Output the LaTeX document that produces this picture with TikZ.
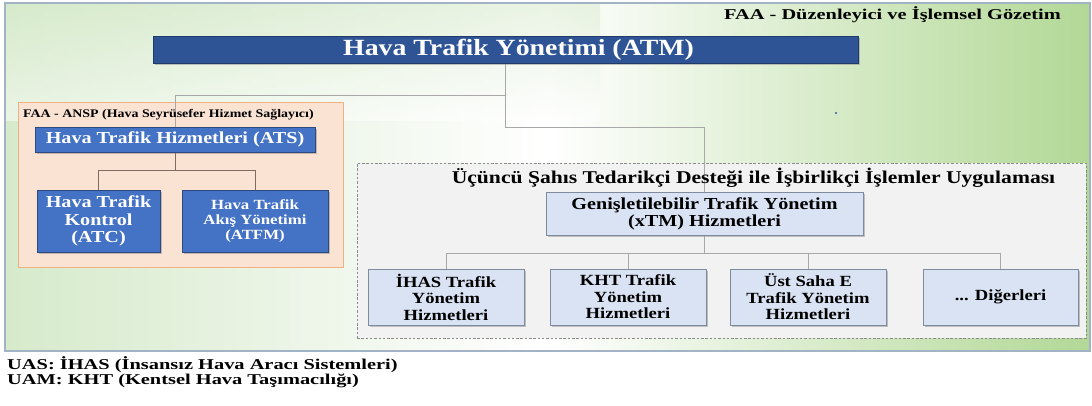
\documentclass[tikz,border=0pt]{standalone}
\usepackage{fontspec}
\setmainfont[FakeStretch=1.2]{Liberation Serif}
\newfontfamily\widefont[FakeStretch=1.36]{Liberation Serif}
\usetikzlibrary{shadows}
\definecolor{atmblue}{HTML}{2F5496}
\definecolor{atsblue}{HTML}{4472C4}
\definecolor{lightbox}{HTML}{DAE3F3}
\definecolor{lightborder}{HTML}{7F8CA0}
\definecolor{anspfill}{HTML}{FBE3D4}
\definecolor{anspborder}{HTML}{F0B080}
\definecolor{dashfill}{HTML}{F2F2F2}
\definecolor{dashborder}{HTML}{8A8A8A}
\definecolor{greenL}{HTML}{D6EACB}
\definecolor{greenR}{HTML}{B2D896}
\definecolor{panelborder}{HTML}{A3B3C6}
\definecolor{connA}{HTML}{A8A8A8}
\definecolor{connB}{HTML}{7E6C62}
\pgfdeclarelayer{bg}
\pgfdeclarelayer{conn}
\pgfsetlayers{bg,conn,main}
\tikzset{
  shad/.style={drop shadow={opacity=0.45, shadow xshift=2pt, shadow yshift=-2pt}},
  atmbox/.style={fill=atmblue, draw=atmblue!70!black, text=white, inner sep=0,
    font=\fontsize{22.5}{26}\selectfont\bfseries, shad},
  atsbox/.style={fill=atsblue, draw=atsblue!65!black, text=white, inner sep=0, align=center, shad},
  lbox/.style={fill=lightbox, draw=lightborder, line width=0.9pt, text=black, inner sep=0, align=center,
    font=\fontsize{15.5}{16.5}\selectfont\bfseries, shad},
  conna/.style={draw=connA, line width=0.8pt},
  connb/.style={draw=connB, line width=0.9pt},
  lbl/.style={inner sep=0, text=black, font=\bfseries},
}
\begin{document}
\begin{tikzpicture}[x=1pt,y=-1pt]
\useasboundingbox (0,0) rectangle (1092,405);
\begin{pgfonlayer}{bg}
\fill[white] (0,0) rectangle (1092,405);
\shade[left color=greenL, right color=greenR, middle color=white] (5,3) rectangle (1090,351);
\shade[top color=greenL, bottom color=white, fill opacity=0.5] (5,3) rectangle (600,120);
\draw[panelborder, line width=1.5pt] (5,3) rectangle (1090,351);
\node[fill=anspfill, draw=anspborder, line width=1pt, minimum width=325, minimum height=165, inner sep=0] (ansp) at (180.5,184.5) {};
\node[fill=dashfill, draw=dashborder, dash pattern=on 2.5pt off 1.8pt, line width=1pt, minimum width=729, minimum height=175, inner sep=0] (third) at (721.5,250.5) {};
\end{pgfonlayer}
\fill[atsblue!80!black] (836,113) circle (1.1);
% labels
\node[lbl, anchor=east, font=\widefont\fontsize{15}{17}\selectfont\bfseries] (faa) at (1061,15) {FAA - Düzenleyici ve İşlemsel Gözetim};
\node[lbl, anchor=west, font=\fontsize{11.6}{12}\selectfont\bfseries] (ansplbl) at (23,115) {FAA - ANSP (Hava Seyrüsefer Hizmet Sağlayıcı)};
\node[lbl, font=\fontsize{18}{20}\selectfont\bfseries] (title) at (753.5,178) {Üçüncü Şahıs Tedarikçi Desteği ile İşbirlikçi İşlemler Uygulaması};
% boxes
\node[atmbox, minimum width=705, minimum height=27, font=\fontsize{23.2}{26}\selectfont\bfseries] (atm) at (505.5,49.5) {\hspace*{26pt}Hava Trafik Yönetimi (ATM)};
\node[atsbox, minimum width=280, minimum height=25, font=\fontsize{16.8}{18}\selectfont\bfseries] (ats) at (175,139.5) {Hava Trafik Hizmetleri (ATS)};
\node[atsbox, minimum width=123, minimum height=62, font=\fontsize{16.8}{17.5}\selectfont\bfseries] (atc) at (98.5,221) {Hava Trafik\\Kontrol\\(ATC)};
\node[atsbox, minimum width=146, minimum height=62, font=\fontsize{14}{15}\selectfont\bfseries] (atfm) at (255,221) {Hava Trafik\\Akış Yönetimi\\(ATFM)};
\node[lbox, minimum width=317, minimum height=43, font=\fontsize{16.8}{17}\selectfont\bfseries] (xtm) at (704.5,213.5) {Genişletilebilir Trafik Yönetim\\(xTM) Hizmetleri};
\node[lbox, minimum width=156, minimum height=56] (c1) at (446,297) {İHAS Trafik\\Yönetim\\Hizmetleri};
\node[lbox, minimum width=156, minimum height=56] (c2) at (628,297) {KHT Trafik\\Yönetim\\Hizmetleri};
\node[lbox, minimum width=156, minimum height=56] (c3) at (808,297) {Üst Saha E\\Trafik Yönetim\\Hizmetleri};
\node[lbox, minimum width=155, minimum height=56] (c4) at (1000.5,297) {... Diğerleri};
% footnotes
\node[lbl, anchor=west, font=\widefont\fontsize{15}{16}\selectfont\bfseries] (uas) at (7,365) {UAS: İHAS (İnsansız Hava Aracı Sistemleri)};
\node[lbl, anchor=west, font=\widefont\fontsize{15}{16}\selectfont\bfseries] (uam) at (7,380.5) {UAM: KHT (Kentsel Hava Taşımacılığı)};
% connectors
\begin{pgfonlayer}{conn}
\draw[conna] (atm.south) -- ++(0,32) -| (ats.north);
\draw[conna] (atm.south) -- ++(0,64) -| (xtm.north);
\draw[connb] (ats.south) -- ++(0,18) -| (atc.north);
\draw[connb] (ats.south) -- ++(0,18) -| (atfm.north);
\draw[conna] (xtm.south) -- ++(0,18) -| (c1.north);
\draw[conna] (xtm.south) -- ++(0,18) -| (c2.north);
\draw[conna] (xtm.south) -- ++(0,18) -| (c3.north);
\draw[conna] (xtm.south) -- ++(0,18) -| (c4.north);
\end{pgfonlayer}
\end{tikzpicture}
\end{document}
